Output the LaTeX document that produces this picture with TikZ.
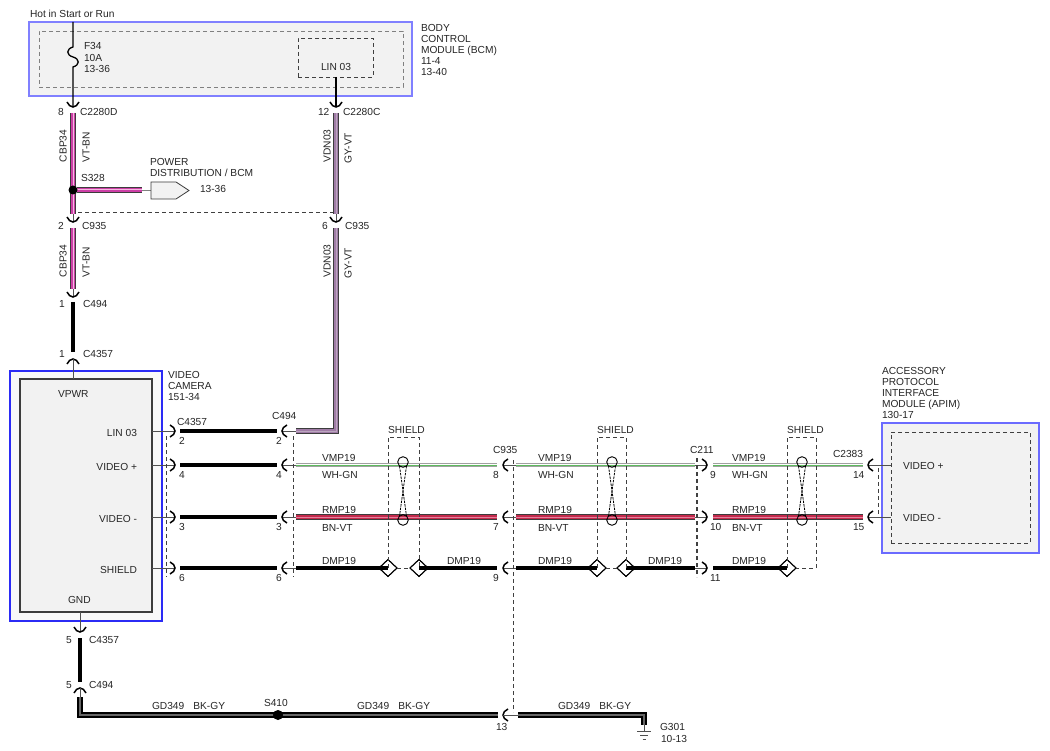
\documentclass[tikz,border=0pt]{standalone}
\usepackage{fontspec}
\setmainfont{Liberation Sans}
\usetikzlibrary{shapes.geometric}
\definecolor{txt}{HTML}{262626}
\definecolor{modfill}{HTML}{F2F2F2}
\definecolor{bcmblue}{HTML}{8080FF}
\definecolor{camblue}{HTML}{2B2BF5}
\definecolor{apimblue}{HTML}{6B6BFF}
\definecolor{edgec}{HTML}{3C3C3C}
\definecolor{vtc}{HTML}{CC3FA6}
\definecolor{vts}{HTML}{F4B8E0}
\definecolor{gyv}{HTML}{A07CA6}
\definecolor{gys}{HTML}{BBA6BF}
\definecolor{whe}{HTML}{A0A0A0}
\definecolor{grn}{HTML}{5DBB5D}
\definecolor{bnc}{HTML}{C42A4C}
\definecolor{bns}{HTML}{E5809C}
\definecolor{leadc}{HTML}{505050}
\definecolor{dashc}{HTML}{404040}
\tikzset{
  chev/.pic={\draw[line width=1.5pt, black] (-5,-6) .. controls (-2,-5) and (0,-2) .. (0,0) .. controls (0,2) and (-2,5) .. (-5,6);},
  lb/.style={anchor=base west},
  lbr/.style={anchor=base east},
  ml/.style={align=left, anchor=north west},
  wthin/.style={draw=leadc, line width=0.8pt},
  wint/.style={draw=black, line width=1.3pt},
  blk/.style={draw=black, line width=3.2pt},
  vtbn/.style={draw=vtc, line width=3.6pt, preaction={draw=edgec, line width=5.4pt}, postaction={draw=vts, line width=1pt}},
  gyvt/.style={draw=gyv, line width=3.6pt, preaction={draw=edgec, line width=5.4pt}, postaction={draw=gys, line width=1pt}},
  whgn/.style={draw=white, line width=2.4pt, preaction={draw=whe, line width=4pt}, postaction={draw=grn, line width=0.9pt}},
  bnvt/.style={draw=bnc, line width=3.6pt, preaction={draw=edgec, line width=5.2pt}, postaction={draw=bns, line width=0.8pt}},
  bkgy/.style={draw=black, line width=5.5pt, postaction={draw=black!60, line width=1.1pt}},
  dsh/.style={draw=dashc, line width=0.9pt, dash pattern=on 4pt off 3pt},
  dmd/.style={diamond, draw=black, line width=0.9pt, minimum width=18pt, minimum height=17pt, inner sep=0pt},
  splice/.style={circle, fill=black, minimum size=9pt, inner sep=0pt},
  twl/.style={draw=black, line width=0.8pt, dash pattern=on 2.5pt off 1pt},
  twc/.style={draw=black, line width=0.9pt},
}
\begin{document}
\begin{tikzpicture}[x=1pt,y=-1pt, every node/.style={inner sep=0pt, outer sep=0pt, text=txt, font=\fontsize{10.2}{11}\selectfont}]
\useasboundingbox[fill=white] (0,0) rectangle (1050,751);

% ---------------- modules ----------------
\node[draw=bcmblue, line width=2pt, fill=modfill, minimum width=383pt, minimum height=74pt, anchor=north west] (bcm) at (29,22) {};
\node[dsh, draw=gray, minimum width=364pt, minimum height=56pt, anchor=north west] (bcmin) at (39,31) {};
\node[dsh, minimum width=75pt, minimum height=39pt, anchor=north west] (linbox) at (298,38) {};
\node[lb] (lintxt) at (321,71) {LIN 03};

\node[draw=camblue, line width=1.4pt, fill=white!50!modfill, minimum width=152pt, minimum height=250pt, anchor=north west] (cam) at (10,371) {};
\node[draw=edgec, line width=1.2pt, fill=modfill, minimum width=132pt, minimum height=233pt, anchor=north west] (camin) at (20,379) {};

\node[draw=apimblue, line width=1.4pt, fill=modfill, minimum width=157pt, minimum height=130pt, anchor=north west] (apim) at (882,423) {};
\node[dsh, minimum width=139pt, minimum height=111pt, anchor=north west] (apimin) at (891,432) {};

% ---------------- module texts ----------------
\node[lb] (hot) at (30,18) {Hot in Start or Run};
\node[ml, font=\fontsize{10.2}{11.5}\selectfont] (f34) at (84,42.7) {F34\\10A\\13-36};
\node[ml] (bcmlbl) at (421,24.7) {BODY\\CONTROL\\MODULE (BCM)\\11-4\\13-40};
\node[ml] (camlbl) at (168,371.7) {VIDEO\\CAMERA\\151-34};
\node[ml] (apimlbl) at (882,367.7) {ACCESSORY\\PROTOCOL\\INTERFACE\\MODULE (APIM)\\130-17};
\node[lb] (vpwr) at (58,397) {VPWR};
\node[lb] (gnd) at (68,603) {GND};
\node[lbr] (plin) at (137,436) {LIN 03};
\node[lbr] (pvp) at (137,470) {VIDEO +};
\node[lbr] (pvm) at (137,522) {VIDEO -};
\node[lbr] (psh) at (137,573) {SHIELD};
\node[lb] (avp) at (903,469) {VIDEO +};
\node[lb] (avm) at (903,521) {VIDEO -};

% ---------------- top left vertical ----------------
\coordinate (hotw) at (73,22);
\coordinate (f1) at (73,47);
\coordinate (f2) at (73,57);
\coordinate (f3) at (73,67);
\coordinate (c1t) at (73,107);
\draw[wint] (hotw) -- (f1) .. controls (66,49) and (66,55) .. (f2) .. controls (80,59) and (80,65) .. (f3) -- (c1t);
\pic[rotate=-90] at (c1t) {chev};
\coordinate (l1a) at (73,113);
\coordinate (l1b) at (73,214);
\coordinate (c2t) at (73,222);
\draw[vtbn] (l1a) -- (l1b);
\draw[wthin] (l1b) -- (c2t);
\pic[rotate=-90] at (c2t) {chev};
\coordinate (l2a) at (73,228);
\coordinate (l2b) at (73,289);
\coordinate (c3t) at (73,297);
\draw[vtbn] (l2a) -- (l2b);
\draw[wthin] (l2b) -- (c3t);
\pic[rotate=-90] at (c3t) {chev};
\coordinate (l3a) at (73,302);
\coordinate (l3b) at (73,352);
\coordinate (c4t) at (73,359);
\draw[blk] (l3a) -- (l3b);
\pic[rotate=90] at (c4t) {chev};
\draw[wthin] (c4t) -- (camin.north -| c4t);

% splice S328 and branch
\coordinate (br1) at (77,190);
\coordinate (br2) at (142,190);
\coordinate (pd) at (151,190);
\draw[vtbn] (br1) -- (br2);
\draw[wthin, draw=gray] (br2) -- (pd);
\node[splice] (s328) at (73,190) {};
\draw[draw=edgec, line width=0.8pt, fill=modfill] (151,182) -- (176,182) -- (189,190.5) -- (176,199) -- (151,199) -- cycle;
\node[lb] (s328t) at (81,182) {S328};
\node[ml] (pdt) at (150,158.7) {POWER\\DISTRIBUTION / BCM};
\node[lb] (pdp) at (200,193) {13-36};

% ---------------- top right vertical ----------------
\coordinate (lin0) at (336,77);
\coordinate (c5t) at (336,107);
\draw[wint] (lin0) -- (c5t);
\pic[rotate=-90] at (c5t) {chev};
\coordinate (r1a) at (336,113);
\coordinate (r1b) at (336,214);
\coordinate (c6t) at (336,222);
\draw[gyvt] (r1a) -- (r1b);
\draw[wthin] (r1b) -- (c6t);
\pic[rotate=-90] at (c6t) {chev};
\coordinate (r2a) at (336,228);
\coordinate (r2c) at (336,431);
\coordinate (r2b) at (296,431);
\draw[gyvt] (r2a) -- (r2c) -- (r2b);

% dashed C935 grouping (top)
\coordinate (dA) at (78,212);
\coordinate (dB) at (333,212);
\draw[dsh] (dA) -- (dB);

% top labels
\node[lb] (n8) at (58,116) {8};
\node[lb] (c2280d) at (80,116) {C2280D};
\node[lb] (n12) at (318,116) {12};
\node[lb] (c2280c) at (343,116) {C2280C};
\node[lb] (n2a) at (58,230) {2};
\node[lb] (c935a) at (82,230) {C935};
\node[lb] (n6a) at (322,230) {6};
\node[lb] (c935b) at (345,230) {C935};
\node[lb] (n1a) at (59,308) {1};
\node[lb] (c494a) at (83,308) {C494};
\node[lb] (n1b) at (59,358) {1};
\node[lb] (c4357a) at (83,358) {C4357};
\node[rotate=90] (cbp1) at (63,146) {CBP34};
\node[rotate=90] (vtbn1) at (86,147) {VT-BN};
\node[rotate=90] (vdn1) at (327,146) {VDN03};
\node[rotate=90] (gyvt1) at (348,148) {GY-VT};
\node[rotate=90] (cbp2) at (63,261) {CBP34};
\node[rotate=90] (vtbn2) at (86,262) {VT-BN};
\node[rotate=90] (vdn2) at (327,261) {VDN03};
\node[rotate=90] (gyvt2) at (348,263) {GY-VT};

% ---------------- rows: camera to C494 ----------------
\foreach \i/\r in {1/431,2/465,3/517,4/568}{
  \coordinate (cp\i) at (152,\r);
  \coordinate (ta\i) at (175,\r);
  \coordinate (wa\i) at (180,\r);
  \coordinate (wb\i) at (277,\r);
  \coordinate (tb\i) at (282,\r);
  \coordinate (wc\i) at (296,\r);
  \draw[wthin] (cp\i) -- (ta\i);
  \pic at (ta\i) {chev};
  \draw[blk] (wa\i) -- (wb\i);
  \draw[wthin] (tb\i) -- (wc\i);
  \pic[rotate=180] at (tb\i) {chev};
}
\foreach \i/\r in {2/465,3/517,4/568}{
  \coordinate (wd\i) at (497,\r);
  \coordinate (tc\i) at (503,\r);
  \coordinate (we\i) at (516,\r);
  \coordinate (wf\i) at (695,\r);
  \coordinate (td\i) at (707,\r);
  \coordinate (wg\i) at (713,\r);
  \draw[wthin] (tc\i) -- (we\i);
  \pic[rotate=180] at (tc\i) {chev};
  \draw[wthin] (wf\i) -- (td\i);
  \pic at (td\i) {chev};
}
\foreach \i/\r in {2/465,3/517}{
  \coordinate (wh\i) at (863,\r);
  \coordinate (te\i) at (868,\r);
  \coordinate (ap\i) at (891,\r);
  \draw[wthin] (te\i) -- (ap\i);
  \pic[rotate=180] at (te\i) {chev};
}
% VMP19 WH-GN
\draw[whgn] (wc2) -- (wd2);
\draw[whgn] (we2) -- (wf2);
\draw[whgn] (wg2) -- (wh2);
% RMP19 BN-VT
\draw[bnvt] (wc3) -- (wd3);
\draw[bnvt] (we3) -- (wf3);
\draw[bnvt] (wg3) -- (wh3);

% shields
\node[dmd] (d1) at (388,568) {};
\node[dmd] (d2) at (419,568) {};
\node[dmd] (d3) at (597,568) {};
\node[dmd] (d4) at (626,568) {};
\node[dmd] (d5) at (787,568) {};
\draw[blk] (wc4) -- (d1.center);
\draw[blk] (d2.center) -- (wd4);
\draw[blk] (we4) -- (d3.center);
\draw[blk] (d4.center) -- (wf4);
\draw[blk] (wg4) -- (d5.center);
\node[dmd] at (d1) {};
\node[dmd] at (d2) {};
\node[dmd] at (d3) {};
\node[dmd] at (d4) {};
\node[dmd] at (d5) {};
\draw[dsh] (d1.center) -- (388,437) -- (419,437) -- (d2.center);
\draw[dsh] (d1.east) -- (d2.west);
\draw[dsh] (d3.center) -- (597,437) -- (626,437) -- (d4.center);
\draw[dsh] (d3.east) -- (d4.west);
\draw[dsh] (d5.center) -- (787,437) -- (816,437) -- (816,568) -- (d5.east);

% twisted pair symbols
\foreach \cx in {403,612,802}{
  \draw[twc] (\cx,462) circle (5.3);
  \draw[twc] (\cx,520) circle (5.3);
  \draw[twl] (\cx-3.5,466) -- (\cx+3.5,516);
  \draw[twl] (\cx+3.5,466) -- (\cx-3.5,516);
}

% connector grouping dashes
\draw[dsh] (166,436) -- (166,577);
\draw[dsh] (293,436) -- (293,577);
\draw[dsh] (513,460) -- (513,712);
\draw[dsh, line width=1.2pt] (697,458) -- (697,577);
\draw[dsh] (878,468) -- (878,517);

% row labels
\node[lb] (c4357r) at (177,425) {C4357};
\node[lb] (c494r) at (272,419) {C494};
\foreach \r/\n/\nb in {444/2/2,478/4/4,530/3/3,581/6/6}{
  \node[lb] at (179,\r) {\n};
  \node[lb] at (276,\r) {\nb};
}
\foreach \x in {322,538,732}{
  \node[lb] at (\x,461) {VMP19};
  \node[lb] at (\x,478) {WH-GN};
  \node[lb] at (\x,513) {RMP19};
  \node[lb] at (\x,531) {BN-VT};
  \node[lb] at (\x,564) {DMP19};
}
\node[lb] (dmp2) at (447,564) {DMP19};
\node[lb] (dmp4) at (648,564) {DMP19};
\node[lb] (sh1) at (388,433) {SHIELD};
\node[lb] (sh2) at (597,433) {SHIELD};
\node[lb] (sh3) at (787,433) {SHIELD};
\node[lb] (c935r) at (493,453) {C935};
\node[lb] (n8r) at (493,478) {8};
\node[lb] (n7r) at (493,530) {7};
\node[lb] (n9r) at (493,581) {9};
\node[lb] (c211) at (690,453) {C211};
\node[lb] (n9s) at (710,478) {9};
\node[lb] (n10) at (710,530) {10};
\node[lb] (n11) at (710,581) {11};
\node[lb] (c2383) at (833,457) {C2383};
\node[lb] (n14) at (853,478) {14};
\node[lb] (n15) at (853,530) {15};

% ---------------- ground ----------------
\coordinate (g0) at (80,612);
\coordinate (g1t) at (80,632);
\draw[wthin] (g0) -- (g1t);
\pic[rotate=-90] at (g1t) {chev};
\coordinate (g2a) at (80,638);
\coordinate (g2b) at (80,682);
\draw[blk] (g2a) -- (g2b);
\coordinate (g3t) at (80,688);
\coordinate (g3a) at (80,697);
\pic[rotate=90] at (g3t) {chev};
\draw[wthin] (g3t) -- (g3a);
\coordinate (gc) at (80,715);
\coordinate (g4b) at (498,715);
\draw[bkgy] (g3a) -- (gc) -- (g4b);
\node[splice, minimum size=10pt] (s410) at (278,715) {};
\coordinate (g5t) at (503,715);
\coordinate (g5a) at (518,715);
\pic[rotate=180] at (g5t) {chev};
\draw[wthin] (g5t) -- (g5a);
\coordinate (gr) at (644,715);
\coordinate (gd) at (644,725);
\draw[bkgy] (g5a) -- (gr) -- (gd);
\coordinate (gg) at (644,731);
\draw[wthin] (gd) -- (gg);
\draw[wthin] (637,731) -- (651,731);
\draw[wthin] (640,735) -- (648,735);
\draw[wthin] (642.5,739) -- (645.5,739);

\node[lb] (n5a) at (66,643) {5};
\node[lb] (c4357b) at (89,643) {C4357};
\node[lb] (n5b) at (66,688) {5};
\node[lb] (c494b) at (89,688) {C494};
\node[lb] (gd1) at (152,709) {GD349\hspace{9pt}BK-GY};
\node[lb] (gd2) at (357,709) {GD349\hspace{9pt}BK-GY};
\node[lb] (gd3) at (558,709) {GD349\hspace{9pt}BK-GY};
\node[lb] (s410t) at (264,706) {S410};
\node[lb] (n13) at (496,730) {13};
\node[lb] (g301) at (660,730) {G301};
\node[lb] (g301p) at (661,742) {10-13};
\end{tikzpicture}
\end{document}
